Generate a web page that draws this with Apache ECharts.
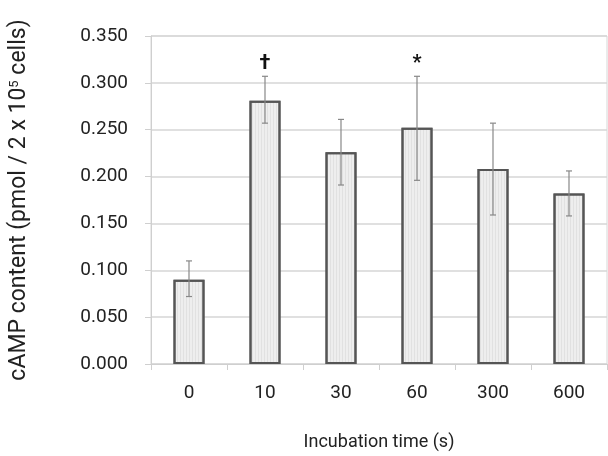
<!DOCTYPE html>
<html>
<head>
<meta charset="utf-8">
<script src="https://cdn.jsdelivr.net/npm/echarts@6/dist/echarts.min.js"></script>
<style>
  html, body { margin: 0; padding: 0; background: #fff; }
  #chart { width: 608px; height: 456px; }
</style>
</head>
<body>
<div id="chart"></div>
<script>
  // incubation times (s)
  var times = ['0', '10', '30', '60', '300', '600'];
  // mean cAMP content
  var means = [0.090, 0.281, 0.226, 0.252, 0.208, 0.182];
  // error bar ends
  var errLow = [0.072, 0.257, 0.191, 0.196, 0.159, 0.158];
  var errHigh = [0.110, 0.307, 0.261, 0.307, 0.257, 0.206];
  // significance marks
  var marks = ['', '\u2020', '', '*', '', ''];
  var yTicks = [0, 0.05, 0.1, 0.15, 0.2, 0.25, 0.3, 0.35];

  var font = 'Roboto, "Noto Sans", sans-serif';
  var chart = echarts.init(document.getElementById('chart'));

  var errData = [];
  for (var i = 0; i < times.length; i++) {
    errData.push([i, errLow[i], errHigh[i], marks[i]]);
  }

  chart.setOption({
    animation: false,
    grid: {
      left: 149, right: 1, top: 36, bottom: 92,
      show: true, borderColor: '#d6d6d6', borderWidth: 1
    },
    xAxis: {
      type: 'category',
      data: times,
      axisLine: { lineStyle: { color: '#cfcfcf', width: 1 } },
      axisTick: { show: true, length: 6, lineStyle: { color: '#cfcfcf' } },
      axisLabel: { color: '#222', fontSize: 19, fontFamily: font, margin: 20 },
      name: 'Incubation time (s)',
      nameLocation: 'middle',
      nameGap: 69,
      nameTextStyle: { color: '#222', fontSize: 18, fontFamily: font }
    },
    yAxis: {
      type: 'value',
      min: yTicks[0],
      max: yTicks[yTicks.length - 1],
      interval: 0.05,
      axisLine: { show: true, lineStyle: { color: '#cfcfcf' } },
      axisTick: { show: true, length: 6, lineStyle: { color: '#cfcfcf' } },
      splitLine: { lineStyle: { color: '#d6d6d6', width: 1.5 } },
      axisLabel: {
        color: '#222', fontSize: 19, fontFamily: font, margin: 23,
        formatter: function (v) { return v.toFixed(3); }
      },
      name: '{a|cAMP content (pmol / 2 x 10}{s|5}{a| cells)}',
      nameLocation: 'middle',
      nameRotate: 90,
      nameGap: 120,
      nameTextStyle: {
        rich: {
          a: { color: '#222', fontSize: 23, fontFamily: font },
          s: { color: '#222', fontSize: 13, fontFamily: font, verticalAlign: 'top', padding: [0, 0, 10, 0] }
        }
      }
    },
    series: [
      {
        type: 'bar',
        data: means,
        barWidth: 31,
        itemStyle: {
          color: '#eeeeee',
          borderColor: '#555',
          borderWidth: 2,
          decal: {
            symbol: 'rect',
            dashArrayX: [1, 2],
            dashArrayY: [10, 0],
            color: 'rgba(0,0,0,0.05)'
          }
        }
      },
      {
        type: 'custom',
        data: errData,
        z: 10,
        renderItem: function (params, api) {
          var x = api.value(0);
          var lo = api.coord([x, api.value(1)]);
          var hi = api.coord([x, api.value(2)]);
          var c = 3;
          var style = { stroke: '#888', lineWidth: 1.2 };
          var kids = [
            { type: 'line', shape: { x1: lo[0], y1: lo[1], x2: hi[0], y2: hi[1] }, style: style },
            { type: 'line', shape: { x1: lo[0] - c, y1: lo[1], x2: lo[0] + c, y2: lo[1] }, style: style },
            { type: 'line', shape: { x1: hi[0] - c, y1: hi[1], x2: hi[0] + c, y2: hi[1] }, style: style }
          ];
          var m = api.value(3);
          if (m) {
            kids.push({
              type: 'text',
              style: {
                text: m, x: hi[0], y: hi[1] - 2,
                align: 'center', verticalAlign: 'bottom',
                fill: '#111', fontSize: 20, fontWeight: 'bold', fontFamily: font
              }
            });
          }
          return { type: 'group', children: kids };
        }
      }
    ]
  });
</script>
</body>
</html>
